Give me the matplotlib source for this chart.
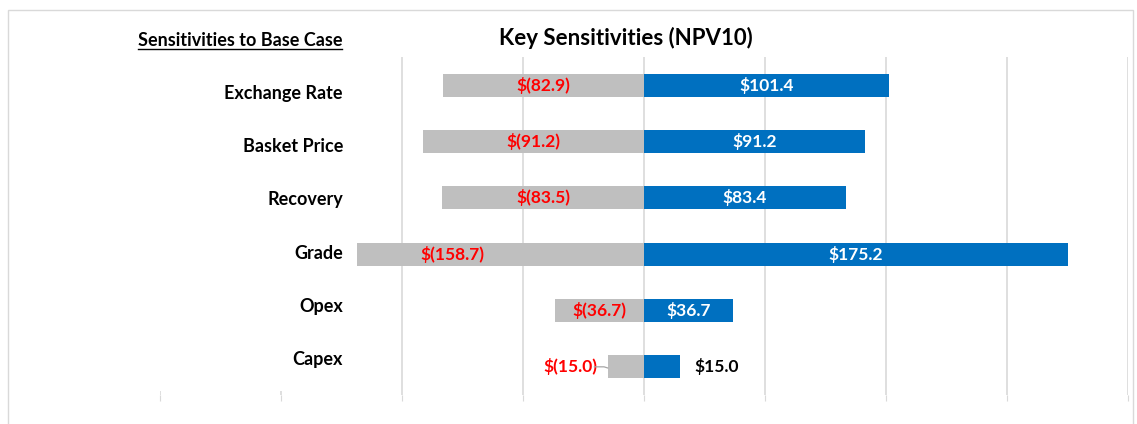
import matplotlib.pyplot as plt
import matplotlib.patches as patches
import numpy as np

plt.rcParams['font.family'] = ['Lato', 'DejaVu Sans']

# ============================
# Data
# ============================
categories = ["Exchange Rate", "Basket Price", "Recovery", "Grade", "Opex", "Capex"]
downside = [-82.9, -91.2, -83.5, -158.7, -36.7, -15.0]
upside = [101.4, 91.2, 83.4, 175.2, 36.7, 15.0]
xticks = [-200, -150, -100, -50, 0, 50, 100, 150, 200]

GREY = "#BFBFBF"
BLUE = "#0070C0"
RED = "#FF0000"
GRID = "#D9D9D9"


def money(v):
    if v < 0:
        return f"$({abs(v):.1f})"
    return f"${v:.1f}"


fig = plt.figure(figsize=(11.37, 4.24), dpi=100)
ax = fig.add_axes([160 / 1137, 1 - 395 / 424, 968 / 1137, 338 / 424])

# outer frame (bottom edge runs off the picture)
fig.patches.append(patches.Rectangle((8 / 1137, -0.05), 1125 / 1137, 1 - 10 / 424 + 0.05,
                                     transform=fig.transFigure, fill=False,
                                     edgecolor=GRID, linewidth=1.0))

y = np.arange(len(categories))
ax.barh(y, downside, height=0.41, color=GREY, zorder=2)
ax.barh(y, upside, height=0.41, color=BLUE, zorder=2)

ax.set_xlim(-200, 200)
ax.set_ylim(len(categories) - 0.5, -0.5)
ax.set_xticks(xticks)
ax.set_xticklabels([])
ax.set_yticks([])
ax.grid(axis="x", color=GRID, linewidth=1.2, zorder=0)
ax.tick_params(axis="x", length=4, color=GRID, direction="out")
for s in ax.spines.values():
    s.set_visible(False)

# white label area covering the left of the plot
ax.add_patch(patches.Rectangle((0, 0.012), 0.2035, 1.0, transform=ax.transAxes,
                               facecolor="white", edgecolor="none", zorder=3, clip_on=False))

# data labels
FS = 12.5
for i, (d, u) in enumerate(zip(downside, upside)):
    if abs(d) > 20:
        ax.text(d / 2, i, money(d), ha="center", va="center", color=RED,
                fontsize=FS, fontweight="bold", zorder=4)
        ax.text(u / 2, i, money(u), ha="center", va="center", color="white",
                fontsize=FS, fontweight="bold", zorder=4)
    else:
        ax.text(d - 15.5, i, money(d), ha="center", va="center", color=RED,
                fontsize=FS, fontweight="bold", zorder=4)
        ax.plot([d - 5.5, d - 1.5, d], [i, i, i + 0.02], color="#A6A6A6", lw=0.9, zorder=4)
        ax.text(u + 15, i, money(u), ha="center", va="center", color="black",
                fontsize=FS, fontweight="bold", zorder=4)

# category labels
label_px = np.linspace(93, 360, len(categories))
for cat, py in zip(categories, label_px):
    fig.text(343 / 1137, 1 - py / 424, cat, ha="right", va="center",
             fontsize=13, fontweight="bold", color="black", zorder=5)

# titles
fig.text(626 / 1137, 1 - 38 / 424, "Key Sensitivities (NPV10)", ha="center", va="center",
         fontsize=16, fontweight="bold")
sub = fig.text(240 / 1137, 1 - 40 / 424, "Sensitivities to Base Case", ha="center",
               va="center", fontsize=13, fontweight="bold")

fig.canvas.draw()
bb = sub.get_window_extent().transformed(fig.transFigure.inverted())
fig.lines.append(plt.Line2D([bb.x0, bb.x1], [bb.y0 - 0.002, bb.y0 - 0.002],
                            transform=fig.transFigure, color="black", lw=1.0))

fig.savefig("out.png", dpi=100)
